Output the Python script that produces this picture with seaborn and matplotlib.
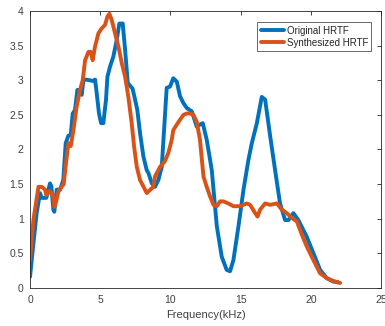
import numpy as np
import pandas as pd
import seaborn as sns
import matplotlib.pyplot as plt
from matplotlib.ticker import FuncFormatter

# data
orig_freq = [0, 0.24, 0.47, 0.71, 0.83, 1.16, 1.42, 1.52, 1.66, 1.73, 1.9, 2.14, 2.37,
             2.54, 2.73, 2.9, 3.04, 3.2, 3.37, 3.5, 3.68, 3.8, 3.99, 4.27, 4.46, 4.63,
             4.75, 4.91, 5.06, 5.22, 5.41, 5.51, 5.7, 5.93, 6.17, 6.36, 6.6, 6.77, 6.96,
             7.17, 7.3, 7.48, 7.64, 7.83, 8.07, 8.31, 8.43, 8.67, 8.9, 9.14, 9.38, 9.73,
             9.97, 10.2, 10.45, 10.68, 10.92, 11.16, 11.52, 11.87, 12.1, 12.3, 12.58,
             12.82, 12.94, 13.3, 13.65, 14.0, 14.24, 14.48, 14.84, 15.2, 15.55, 15.79,
             16.15, 16.5, 16.74, 17.1, 17.45, 17.8, 18.16, 18.4, 18.75, 19.1, 19.7,
             20.18, 20.65, 21.13, 21.6, 21.96]
orig_mag = [0.16, 0.64, 1.08, 1.37, 1.30, 1.30, 1.51, 1.47, 1.13, 1.10, 1.42, 1.42, 1.56,
            2.09, 2.20, 2.21, 2.52, 2.57, 2.86, 2.86, 2.79, 3.0, 3.01, 3.0, 2.99, 3.01,
            2.81, 2.52, 2.38, 2.38, 2.72, 3.05, 3.20, 3.34, 3.58, 3.82, 3.82, 3.44, 2.96,
            2.91, 2.88, 2.72, 2.57, 2.24, 1.90, 1.70, 1.66, 1.51, 1.46, 1.56, 1.75, 2.89,
            2.91, 3.03, 2.98, 2.77, 2.67, 2.60, 2.55, 2.33, 2.36, 2.38, 2.14, 1.85,
            1.70, 0.89, 0.45, 0.26, 0.24, 0.40, 0.89, 1.42, 1.85, 2.09, 2.38, 2.76,
            2.72, 2.19, 1.70, 1.22, 0.98, 0.98, 1.08, 0.98, 0.74, 0.50, 0.26, 0.14,
            0.09, 0.08]

synth_freq = [0, 0.24, 0.6, 0.83, 1.07, 1.16, 1.4, 1.52, 1.66, 1.73, 1.85, 2.02, 2.25,
              2.4, 2.56, 2.73, 2.9, 3.09, 3.32, 3.56, 3.75, 3.92, 4.16, 4.32, 4.46, 4.63,
              4.87, 5.1, 5.34, 5.51, 5.65, 5.82, 6.05, 6.29, 6.53, 6.77, 7.0, 7.24, 7.41,
              7.6, 7.83, 8.31, 8.78, 8.9, 9.26, 9.6, 9.85, 10.09, 10.2, 10.45, 10.68,
              10.92, 11.16, 11.4, 11.63, 11.87, 12.1, 12.35, 12.58, 12.82, 13.06, 13.3,
              13.53, 13.77, 14.12, 14.48, 14.96, 15.43, 15.67, 16.03, 16.2, 16.38, 16.74,
              17.1, 17.57, 17.93, 18.28, 18.64, 19.0, 19.35, 19.7, 20.18, 20.65, 21.13,
              21.6, 22.08]
synth_mag = [0.40, 0.98, 1.46, 1.46, 1.42, 1.34, 1.40, 1.37, 1.32, 1.17, 1.24, 1.39, 1.46,
             1.50, 1.80, 2.09, 2.05, 2.28, 2.62, 2.86, 3.0, 3.29, 3.41, 3.41, 3.29, 3.49,
             3.68, 3.75, 3.80, 3.92, 3.96, 3.87, 3.68, 3.49, 3.25, 3.05, 2.76, 2.38, 2.04,
             1.75, 1.56, 1.37, 1.46, 1.61, 1.75, 1.83, 1.95, 2.14, 2.28, 2.36, 2.43,
             2.50, 2.52, 2.52, 2.50, 2.40, 2.14, 1.61, 1.46, 1.32, 1.20, 1.18,
             1.25, 1.25, 1.22, 1.18, 1.18, 1.22, 1.20, 1.08, 1.03, 1.13, 1.22,
             1.20, 1.22, 1.13, 1.08, 1.01, 0.96, 0.77, 0.60, 0.40, 0.21, 0.14,
             0.10, 0.07]

df = pd.concat([
    pd.DataFrame({"freq": orig_freq, "mag": orig_mag, "series": "Original HRTF"}),
    pd.DataFrame({"freq": synth_freq, "mag": synth_mag, "series": "Synthesized HRTF"}),
])

sns.set_style("white")
plt.rcParams['font.family'] = ['Liberation Sans', 'DejaVu Sans']

fig = plt.figure(figsize=(3.85, 3.26), dpi=100)
ax = fig.add_axes([0.078, 0.117, 0.912, 0.849])

sns.lineplot(data=df, x="freq", y="mag", hue="series", sort=False,
             palette=["#0072BD", "#D95319"], linewidth=2.8, ax=ax)

ax.set_xlim(0, 25)
ax.set_ylim(0, 4)
ax.set_xticks([0, 5, 10, 15, 20, 25])
ax.set_yticks(np.arange(0, 4.01, 0.5))
ax.yaxis.set_major_formatter(FuncFormatter(lambda v, p: "%g" % v))
ax.tick_params(direction="in", length=3, width=0.6, labelsize=7.5,
               colors="#262626", labelcolor="#404040", top=True, right=True)
ax.tick_params(axis="x", pad=5)
ax.tick_params(axis="y", pad=4.5)
for s in ax.spines.values():
    s.set_color("#262626")
    s.set_linewidth(0.6)
ax.set_xlabel("Frequency(kHz)", fontsize=8, color="#404040", labelpad=4)
ax.set_ylabel("")

leg = ax.legend(loc="upper right", fontsize=7, frameon=True, fancybox=False,
                handlelength=2.4, handletextpad=0.25, borderpad=0.35,
                labelspacing=0.2, borderaxespad=0,
                bbox_to_anchor=(0.972, 0.96))
leg.get_frame().set_edgecolor("#262626")
leg.get_frame().set_linewidth(0.6)
for t in leg.get_texts():
    t.set_color("#262626")

fig.savefig("out.png", dpi=100)
